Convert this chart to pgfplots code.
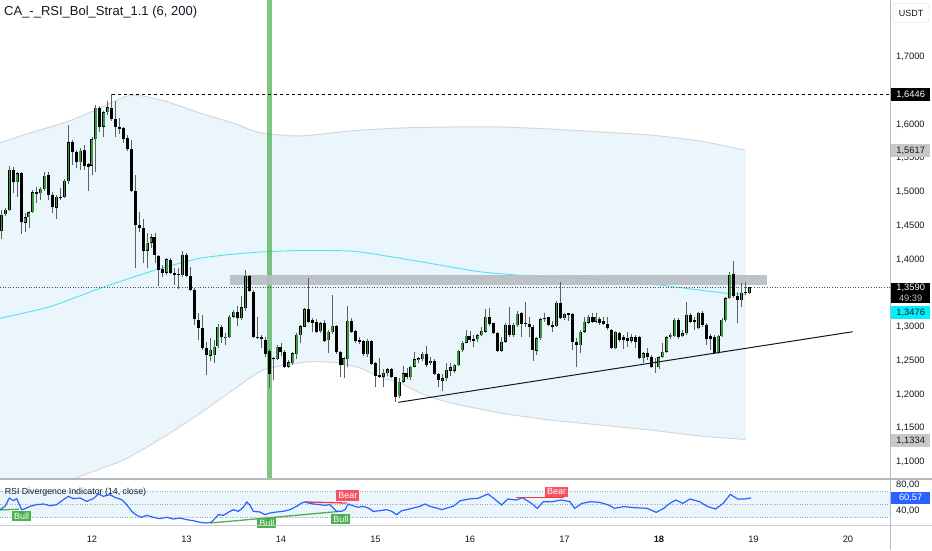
\documentclass[border=0pt]{standalone}
\usepackage{fontspec}
\setmainfont{Liberation Sans}
\usepackage{pgfplots}
\pgfplotsset{compat=1.18}
\usepackage{pgfplotstable}

\definecolor{txt}{RGB}{19,23,34}
\definecolor{bandfill}{RGB}{235,245,252}
\definecolor{bandline}{RGB}{212,216,222}
\definecolor{smac}{RGB}{80,228,240}
\definecolor{zonec}{RGB}{184,189,196}
\definecolor{vgreen}{RGB}{76,175,80}
\definecolor{cgreen}{RGB}{56,150,60}
\definecolor{wickc}{RGB}{95,95,95}
\definecolor{rsiblue}{RGB}{41,98,255}
\definecolor{bullc}{RGB}{76,175,80}
\definecolor{bearc}{RGB}{247,82,95}
\definecolor{divred}{RGB}{242,54,69}
\definecolor{sepc}{RGB}{180,183,190}
\definecolor{lblgrey}{RGB}{200,200,200}
\definecolor{cyanlbl}{RGB}{0,240,255}
\newcommand\lab{\fontsize{9.3}{11}\selectfont}

\pgfplotstableread{
k O H L C
-23 1.4422 1.4733 1.4304 1.4659
-22 1.4669 1.4758 1.4649 1.4733
-21 1.4733 1.5390 1.4718 1.5326
-20 1.5326 1.5375 1.4980 1.5143
-19 1.5143 1.5291 1.4931 1.5276
-18 1.5276 1.5291 1.4378 1.4551
-17 1.4546 1.4684 1.4412 1.4625
-16 1.4630 1.4718 1.4462 1.4699
-15 1.4699 1.5030 1.4684 1.4995
-14 1.4995 1.5079 1.4832 1.4975
-13 1.4980 1.5079 1.4881 1.5044
-12 1.5044 1.5301 1.5015 1.5242
-11 1.5252 1.5291 1.4881 1.4955
-10 1.4955 1.4995 1.4684 1.4773
-9 1.4768 1.4955 1.4600 1.4931
-8 1.4906 1.5064 1.4881 1.4921
-7 1.4921 1.5188 1.4906 1.5168
-6 1.5163 1.5992 1.5118 1.5736
-5 1.5736 1.5770 1.5400 1.5588
-4 1.5597 1.5622 1.5350 1.5439
-3 1.5439 1.5647 1.5326 1.5607
-2 1.5622 1.5696 1.5326 1.5390
-1 1.5410 1.5425 1.5015 1.5375
0 1.5390 1.5820 1.5252 1.5780
1 1.5780 1.6289 1.5291 1.6249
2 1.6249 1.6279 1.5884 1.5968
3 1.5968 1.6200 1.5820 1.6180
4 1.6180 1.6348 1.6141 1.6254
5 1.6249 1.6446 1.6052 1.6076
6 1.6076 1.6353 1.5810 1.5968
7 1.5968 1.6091 1.5854 1.5928
8 1.5953 1.5968 1.5721 1.5785
9 1.5795 1.5844 1.5607 1.5632
10 1.5632 1.5770 1.5005 1.5015
11 1.5015 1.5252 1.3879 1.4511
12 1.4511 1.4709 1.4412 1.4462
13 1.4462 1.4600 1.3943 1.4131
14 1.4131 1.4388 1.3869 1.4249
15 1.4249 1.4378 1.4165 1.4328
16 1.4339 1.4388 1.3944 1.4067
17 1.4052 1.4067 1.3608 1.3845
18 1.3855 1.3919 1.3746 1.3805
19 1.3805 1.4018 1.3771 1.4003
20 1.3993 1.4018 1.3786 1.3796
21 1.3805 1.3870 1.3623 1.3771
22 1.3786 1.3870 1.3559 1.3771
23 1.3771 1.4131 1.3746 1.4067
24 1.4067 1.4092 1.3736 1.3756
25 1.3756 1.3894 1.3539 1.3549
26 1.3549 1.3574 1.3030 1.3114
27 1.3104 1.3213 1.2808 1.2981
28 1.2981 1.3178 1.2660 1.2685
29 1.2685 1.2783 1.2289 1.2586
30 1.2577 1.2833 1.2502 1.2660
31 1.2586 1.2808 1.2462 1.2709
32 1.2719 1.3045 1.2685 1.3006
33 1.3006 1.3030 1.2768 1.2847
34 1.2832 1.2916 1.2733 1.2857
35 1.2847 1.3178 1.2832 1.3153
36 1.3153 1.3252 1.3128 1.3227
37 1.3227 1.3311 1.3015 1.3128
38 1.3128 1.3459 1.3104 1.3291
39 1.3277 1.3845 1.3242 1.3756
40 1.3756 1.3771 1.3524 1.3539
41 1.3524 1.3549 1.2832 1.2847
42 1.2857 1.3143 1.2818 1.2832
43 1.2857 1.2882 1.2685 1.2818
44 1.2808 1.2857 1.2550 1.2600
45 1.2640 1.2680 1.2096 1.2304
46 1.2522 1.2561 1.2215 1.2536
47 1.2522 1.2734 1.2512 1.2709
48 1.2709 1.2759 1.2571 1.2635
49 1.2635 1.2660 1.2398 1.2413
50 1.2413 1.2512 1.2388 1.2477
51 1.2462 1.2635 1.2438 1.2610
52 1.2600 1.2906 1.2522 1.2882
53 1.2882 1.3030 1.2760 1.3010
54 1.3005 1.3276 1.2995 1.3261
55 1.3261 1.3721 1.3064 1.3079
56 1.3103 1.3128 1.2930 1.3064
57 1.3080 1.3113 1.2915 1.2930
58 1.2940 1.3079 1.2906 1.3054
59 1.3064 1.3103 1.2782 1.2797
60 1.2807 1.2955 1.2609 1.2930
61 1.2920 1.3474 1.2896 1.3014
62 1.3014 1.3029 1.2600 1.2634
63 1.2634 1.2649 1.2254 1.2437
64 1.2437 1.2550 1.2239 1.2535
65 1.2520 1.3311 1.2402 1.3093
66 1.3093 1.3128 1.2906 1.2930
67 1.2945 1.2955 1.2767 1.2797
68 1.2807 1.2856 1.2748 1.2782
69 1.2797 1.2807 1.2570 1.2600
70 1.2600 1.2817 1.2550 1.2797
71 1.2797 1.2807 1.2437 1.2451
72 1.2461 1.2486 1.2106 1.2274
73 1.2289 1.2535 1.2239 1.2264
74 1.2264 1.2372 1.2106 1.2323
75 1.2313 1.2387 1.2274 1.2372
76 1.2372 1.2387 1.2239 1.2264
77 1.2254 1.2264 1.1893 1.1968
78 1.1978 1.2239 1.1943 1.2190
79 1.2190 1.2422 1.2175 1.2313
80 1.2313 1.2387 1.2224 1.2254
81 1.2254 1.2422 1.2215 1.2412
82 1.2412 1.2634 1.2402 1.2521
83 1.2511 1.2550 1.2462 1.2535
84 1.2521 1.2634 1.2501 1.2600
85 1.2600 1.2718 1.2412 1.2437
86 1.2462 1.2550 1.2437 1.2501
87 1.2501 1.2521 1.2289 1.2303
88 1.2303 1.2323 1.2116 1.2215
89 1.2205 1.2303 1.2057 1.2239
90 1.2239 1.2462 1.2205 1.2363
91 1.2353 1.2462 1.2274 1.2402
92 1.2353 1.2451 1.2313 1.2437
93 1.2437 1.2659 1.2422 1.2649
94 1.2659 1.2797 1.2634 1.2767
95 1.2767 1.2955 1.2758 1.2866
96 1.2866 1.2945 1.2782 1.2807
97 1.2822 1.2881 1.2699 1.2797
98 1.2817 1.2896 1.2782 1.2876
99 1.2876 1.2995 1.2866 1.2940
100 1.2930 1.3261 1.2916 1.3153
101 1.3153 1.3276 1.3015 1.3044
102 1.3054 1.3064 1.2896 1.2906
103 1.2916 1.2930 1.2634 1.2649
104 1.2649 1.2856 1.2634 1.2782
105 1.2782 1.3054 1.2767 1.3029
106 1.3029 1.3291 1.2856 1.2881
107 1.2881 1.3054 1.2856 1.3029
108 1.3029 1.3242 1.3005 1.3192
109 1.3202 1.3227 1.2856 1.3044
110 1.3064 1.3375 1.3005 1.3044
111 1.3044 1.3143 1.2856 1.2995
112 1.2995 1.3029 1.2501 1.2659
113 1.2649 1.2856 1.2585 1.2832
114 1.2832 1.3128 1.2807 1.3113
115 1.3113 1.3202 1.3079 1.3128
116 1.3143 1.3153 1.3015 1.3029
117 1.3029 1.3093 1.2930 1.3005
118 1.3015 1.3390 1.2995 1.3360
119 1.3360 1.3672 1.3113 1.3128
120 1.3128 1.3212 1.3103 1.3192
121 1.3202 1.3212 1.3093 1.3177
122 1.3192 1.3202 1.2659 1.2782
123 1.2782 1.2832 1.2402 1.2733
124 1.2733 1.2955 1.2609 1.2930
125 1.2930 1.3153 1.2906 1.3079
126 1.3064 1.3177 1.3044 1.3153
127 1.3153 1.3212 1.3054 1.3079
128 1.3079 1.3202 1.3054 1.3153
129 1.3113 1.3153 1.3029 1.3064
130 1.3093 1.3153 1.3029 1.3044
131 1.3044 1.3153 1.2955 1.2990
132 1.2956 1.2965 1.2669 1.2684
133 1.2684 1.2946 1.2669 1.2931
134 1.2916 1.2931 1.2783 1.2808
135 1.2847 1.2882 1.2669 1.2808
136 1.2832 1.2931 1.2709 1.2798
137 1.2798 1.2897 1.2758 1.2847
138 1.2847 1.2882 1.2684 1.2783
139 1.2847 1.2867 1.2521 1.2536
140 1.2536 1.2635 1.2462 1.2610
141 1.2610 1.2684 1.2511 1.2561
142 1.2561 1.2585 1.2388 1.2403
143 1.2462 1.2536 1.2324 1.2487
144 1.2403 1.2571 1.2374 1.2551
145 1.2551 1.2758 1.2536 1.2635
146 1.2635 1.2867 1.2620 1.2847
147 1.2847 1.2916 1.2818 1.2882
148 1.2867 1.3129 1.2847 1.3104
149 1.3104 1.3129 1.2818 1.2847
150 1.2867 1.2956 1.2847 1.2906
151 1.2906 1.3376 1.2882 1.3178
152 1.3178 1.3203 1.3064 1.3079
153 1.3104 1.3153 1.2956 1.3079
154 1.2980 1.3227 1.2965 1.3213
155 1.3213 1.3242 1.2995 1.3030
156 1.3030 1.3054 1.2734 1.2818
157 1.2867 1.2897 1.2659 1.2818
158 1.2847 1.2882 1.2600 1.2620
159 1.2620 1.2882 1.2600 1.2867
160 1.2867 1.3129 1.2857 1.3104
161 1.3104 1.3450 1.3079 1.3425
162 1.3425 1.3820 1.3410 1.3771
163 1.3785 1.3983 1.3425 1.3460
164 1.3460 1.3523 1.3055 1.3400
165 1.3400 1.3657 1.3292 1.3509
166 1.3524 1.3672 1.3474 1.3499
167 1.3499 1.3598 1.3489 1.3590
}\candles

\pgfplotstableread{
h r
-23.37 42.4
-22.1 47.5
-21.0 60.3
-20.0 56.2
-19.1 59.3
-18.45 50.1
-17.86 42.4
-17.0 43.9
-15.75 47.5
-14.05 50.1
-12.36 51.1
-10.67 48.5
-8.97 50.1
-7.28 57.7
-6.01 62.9
-4.74 59.3
-3.05 60.3
-1.35 55.2
0.34 59.3
1.61 66.5
2.88 62.9
4.57 65.4
5.84 61.3
7.54 57.7
8.81 50.1
10.08 39.8
11.35 33.7
12.61 30.6
13.88 33.7
15.58 30.6
17.27 28.5
18.96 30.6
20.66 28.0
22.35 29.5
24.05 27.0
25.74 25.4
27.43 22.9
29.12 21.8
30.39 23.4
32.09 34.7
33.36 33.7
35.05 39.8
35.90 42.4
37.17 39.8
38.43 46.0
39.28 54.2
40.13 49.1
40.97 39.8
42.67 38.8
43.94 34.7
45.21 37.2
46.9 38.8
48.59 39.8
50.29 42.4
51.98 47.5
53.25 52.6
54.1 54.2
54.94 52.6
56.21 51.1
57.9 50.1
59.17 49.0
60.44 50.1
61.29 44.9
62.14 39.8
63.41 39.8
64.25 42.4
65.1 51.1
65.95 49.1
67.64 46.0
68.91 47.5
70.18 44.9
71.45 39.8
73.14 40.8
74.84 42.4
76.11 39.8
77.38 34.7
78.65 40.8
79.92 42.4
81.61 44.9
83.3 47.5
84.57 51.1
85.84 47.5
87.54 44.9
88.81 42.4
90.08 44.9
91.77 47.5
93.46 56.0
95.76 58.8
98.02 59.8
100.58 66.5
102.55 57.2
104.06 49.5
105.56 58.8
107.83 57.2
109.34 60.8
111.6 52.1
113.11 44.4
114.61 54.7
116.87 54.7
119.14 57.2
121.4 54.7
122.6 44.4
124.42 52.1
126.68 54.7
128.94 53.6
131.2 49.5
132.71 44.4
134.97 47.0
137.99 45.4
141.0 44.4
143.27 38.3
145.23 44.4
146.74 52.1
148.24 57.2
150.05 52.1
151.86 58.8
154.27 54.7
156.38 47.0
158.35 43.4
160.31 52.1
162.12 66.0
163.93 58.8
165.89 58.8
167.4 60.57
}\rsi

\begin{document}
\begin{tikzpicture}
\useasboundingbox (0,0) rectangle (932pt,-550pt);
\fill[white] (0,0) rectangle (932pt,-550pt);

% ---------------- main price panel
\begin{axis}[
  at={(0pt,-479pt)}, anchor=south west,
  scale only axis, width=890pt, height=479pt,
  xmin=-23.365, xmax=202.67, ymin=1.07481, ymax=1.78444,
  axis line style={draw=none},
  major tick length=0pt,
  xtick=\empty,
  ytick={1.1,1.15,1.2,1.25,1.3,1.4,1.45,1.5,1.55,1.6,1.7},
  yticklabel pos=right,
  yticklabel style={anchor=west, xshift=6pt, inner sep=0pt, font=\lab, text=txt,
    /pgf/number format/fixed, /pgf/number format/fixed zerofill,
    /pgf/number format/precision=4, /pgf/number format/use comma,
    /pgf/number format/assume math mode=true},
  clip mode=individual,
]
% band fill
\addplot[fill=bandfill, draw=none, forget plot] coordinates {
(-23.37,1.5730) (-15.75,1.5874) (-6.35,1.6041) (1.27,1.6225) (8.89,1.6422) (12.95,1.6422)
(19.05,1.6338) (27.43,1.6170) (35.81,1.6022) (42.67,1.5878) (52.83,1.5830) (65.52,1.5904)
(78.22,1.5948) (90.92,1.5963) (103.62,1.5963) (116.32,1.5933) (129.02,1.5889) (141.71,1.5844)
(154.41,1.5756) (166,1.5617)
(166,1.1334) (154.41,1.1385) (141.71,1.1474) (129.02,1.1548) (116.32,1.1622) (103.62,1.1726)
(98.54,1.1785) (93.46,1.1844) (88.38,1.1918) (83.3,1.2022) (78.22,1.2170) (73.14,1.2259)
(68.06,1.2393) (62.98,1.2467) (57.9,1.2486) (52.83,1.2471) (43.43,1.2363) (35.81,1.2067)
(27.43,1.1721) (19.05,1.1400) (8.89,1.1055) (2.03,1.0896) (-4.32,1.0758) (-10.67,1.0585)
(-23.37,1.036)} -- cycle;
% upper band line
\addplot[bandline, line width=1pt, smooth, tension=0.4] coordinates {
(-23.37,1.5730) (-15.75,1.5874) (-6.35,1.6041) (1.27,1.6225) (8.89,1.6422) (12.95,1.6422)
(19.05,1.6338) (27.43,1.6170) (35.81,1.6022) (42.67,1.5878) (52.83,1.5830) (65.52,1.5904)
(78.22,1.5948) (90.92,1.5963) (103.62,1.5963) (116.32,1.5933) (129.02,1.5889) (141.71,1.5844)
(154.41,1.5756) (166,1.5617)};
% lower band line
\addplot[bandline, line width=1pt, smooth, tension=0.4] coordinates {
(-23.37,1.036) (-10.67,1.0585) (-4.32,1.0758) (2.03,1.0896) (8.89,1.1055) (19.05,1.1400)
(27.43,1.1721) (35.81,1.2067) (43.43,1.2363) (52.83,1.2471) (57.9,1.2486) (62.98,1.2467)
(68.06,1.2393) (73.14,1.2259) (78.22,1.2170) (83.3,1.2022) (88.38,1.1918) (93.46,1.1844)
(98.54,1.1785) (103.62,1.1726) (116.32,1.1622) (129.02,1.1548) (141.71,1.1474)
(154.41,1.1385) (166,1.1334)};
% SMA 200
\addplot[smac, line width=0.9pt, smooth, tension=0.4] coordinates {
(-23.37,1.3129) (-10.67,1.3301) (2.03,1.3573) (14.73,1.3819) (27.43,1.4018) (40.13,1.4101)
(52.83,1.4133) (65.52,1.4126) (73.14,1.4067) (85.84,1.3944) (98.54,1.3819) (111.24,1.3756)
(123.94,1.3721) (135.87,1.3671) (144.25,1.3622) (152.64,1.3559) (161.27,1.3499) (166,1.3476)};
% green vertical signal line
\addplot[vgreen, line width=5pt, opacity=0.72] coordinates {(45.2,1.07) (45.2,1.79)};
% resistance zone
\addplot[fill=zonec, draw=none, opacity=0.9] coordinates {
(35.05,1.3622) (171.43,1.3622) (171.43,1.3770) (35.05,1.3770)} -- cycle;
% current price dotted line
\addplot[txt!75, line width=0.8pt, dash pattern=on 1pt off 1.6pt] coordinates {(-23.37,1.3590) (202.67,1.3590)};
% high dashed line
\addplot[black, line width=0.8pt, dash pattern=on 3pt off 3pt] coordinates {(5.156,1.6446) (202.67,1.6446)};
% wicks
\addplot[draw=none, mark=none, forget plot,
  error bars/.cd, y dir=plus, y explicit, error mark=none,
  error bar style={draw=wickc, line width=0.9pt, solid, line cap=butt}]
  table[x=k, y=L, y error plus expr={\thisrow{H}-\thisrow{L}}] {\candles};
% bodies (black)
\addplot[draw=none, mark=none, forget plot,
  error bars/.cd, y dir=plus, y explicit, error mark=none,
  error bar style={draw=black, line width=3pt, solid, line cap=butt}]
  table[x=k, y expr={min(\thisrow{O},\thisrow{C})}, y error plus expr={max(abs(\thisrow{C}-\thisrow{O}),0.0012)}] {\candles};
% bodies (green inner)
\addplot[draw=none, mark=none, forget plot, unbounded coords=discard,
  restrict expr to domain={\thisrow{C}-\thisrow{O}}{0.0016:1},
  error bars/.cd, y dir=plus, y explicit, error mark=none,
  error bar style={draw=cgreen, line width=1.6pt, solid, line cap=butt}]
  table[x=k, y expr={min(\thisrow{O},\thisrow{C})+0.0006}, y error plus expr={abs(\thisrow{C}-\thisrow{O})-0.0012}] {\candles};
% rising trendline
\addplot[txt, line width=1pt] coordinates {(77.79,1.1884) (193.19,1.2930)};

% price labels on the scale
\node[fill=black, text=white, anchor=west, xshift=1pt, inner sep=0pt, minimum width=39pt, minimum height=12.5pt, font=\lab] at (axis cs:202.67,1.6446) {1,6446};
\node[fill=lblgrey, text=txt, anchor=west, xshift=1pt, inner sep=0pt, minimum width=39pt, minimum height=12.5pt, font=\lab] at (axis cs:202.67,1.5617) {1,5617};
\node[fill=black, text=white, anchor=north west, xshift=1pt, inner sep=1pt, minimum width=39pt, align=center, font=\lab] at (axis cs:202.67,1.3656) {1,3590\\{\color{white!75!black}49:39}};
\node[fill=cyanlbl, text=txt, anchor=north west, xshift=1pt, inner sep=0pt, minimum width=39pt, minimum height=13pt, font=\lab] at (axis cs:202.67,1.3311) {1,3476};
\node[fill=lblgrey, text=txt, anchor=west, xshift=1pt, inner sep=0pt, minimum width=39pt, minimum height=12.5pt, font=\lab] at (axis cs:202.67,1.1320) {1,1334};
\end{axis}

% ---------------- RSI panel
\begin{axis}[
  at={(0pt,-525pt)}, anchor=south west,
  scale only axis, width=890pt, height=46pt,
  xmin=-23.365, xmax=202.67, ymin=18.77, ymax=89.54,
  axis line style={draw=none},
  major tick length=0pt,
  xtick={0,24,48,72,96,120,144,168,192},
  xticklabels={12,13,14,15,16,17,\textbf{18},19,20},
  xticklabel style={anchor=base, yshift=-17pt, font=\lab, text=txt},
  ytick={40,80},
  yticklabel pos=right,
  yticklabel style={anchor=west, xshift=6pt, inner sep=0pt, font=\lab, text=txt,
    /pgf/number format/fixed, /pgf/number format/fixed zerofill,
    /pgf/number format/precision=2, /pgf/number format/use comma,
    /pgf/number format/assume math mode=true},
  clip mode=individual,
]
\addplot[fill=bandfill, draw=none] coordinates {(-23.37,30) (202.67,30) (202.67,70) (-23.37,70)} -- cycle;
\addplot[gray!70, line width=0.6pt, dash pattern=on 1pt off 1.5pt] coordinates {(-23.37,70) (202.67,70)};
\addplot[gray!70, line width=0.6pt, dash pattern=on 1pt off 1.5pt] coordinates {(-23.37,50) (202.67,50)};
\addplot[gray!70, line width=0.6pt, dash pattern=on 1pt off 1.5pt] coordinates {(-23.37,30) (202.67,30)};
% divergence lines
\addplot[bullc, line width=1.3pt] coordinates {(-23.37,42.0) (-18.5,43.0)};
\addplot[bullc, line width=1.3pt] coordinates {(29.97,21.8) (62.5,39.5)};
\addplot[divred, line width=1.3pt] coordinates {(54.1,54.2) (64.7,52.6)};
\addplot[divred, line width=1.3pt] coordinates {(107.8,60.8) (119.9,60.8)};
% RSI line
\addplot[rsiblue, line width=1.2pt] table[x=h, y=r] {\rsi};
% labels
\node[fill=bullc, text=white, inner sep=2pt, font=\fontsize{9}{10}\selectfont] at (axis cs:-17.9,32.6) {Bull};
\node[fill=bullc, text=white, inner sep=2pt, font=\fontsize{9}{10}\selectfont] at (axis cs:44.4,21.8) {Bull};
\node[fill=bullc, text=white, inner sep=2pt, font=\fontsize{9}{10}\selectfont] at (axis cs:63.2,28.0) {Bull};
\node[fill=bearc, text=white, inner sep=2pt, font=\fontsize{9}{10}\selectfont] at (axis cs:65.0,64.2) {Bear};
\node[fill=bearc, text=white, inner sep=2pt, font=\fontsize{9}{10}\selectfont] at (axis cs:118,70) {Bear};
\node[fill=rsiblue, text=white, anchor=west, xshift=1pt, inner sep=0pt, minimum width=39pt, minimum height=12.5pt, font=\lab] at (axis cs:202.67,60.57) {60,57};
\node[anchor=west, inner sep=0pt, font=\fontsize{8.8}{10}\selectfont, text=txt] at (axis cs:-22.2,69.5) {RSI Divergence Indicator (14, close)};
\end{axis}

% separators
\draw[sepc, line width=1pt] (890pt,0pt) -- (890pt,-550pt);
\draw[sepc, line width=1.2pt] (0pt,-479pt) -- (932pt,-479pt);
\draw[sepc!70, line width=1pt] (0pt,-525pt) -- (932pt,-525pt);
% titles
\node[anchor=west, inner sep=0pt, font=\fontsize{13}{15}\selectfont, text=txt] at (4pt,-12pt) {CA\_-\_RSI\_Bol\_Strat\_1.1 (6, 200)};
\node[draw=gray!35, fill=white, rounded corners=3pt, minimum width=36pt, minimum height=19pt, inner sep=0pt, font=\fontsize{9}{10}\selectfont, text=txt] at (911pt,-13pt) {USDT};
\end{tikzpicture}
\end{document}
